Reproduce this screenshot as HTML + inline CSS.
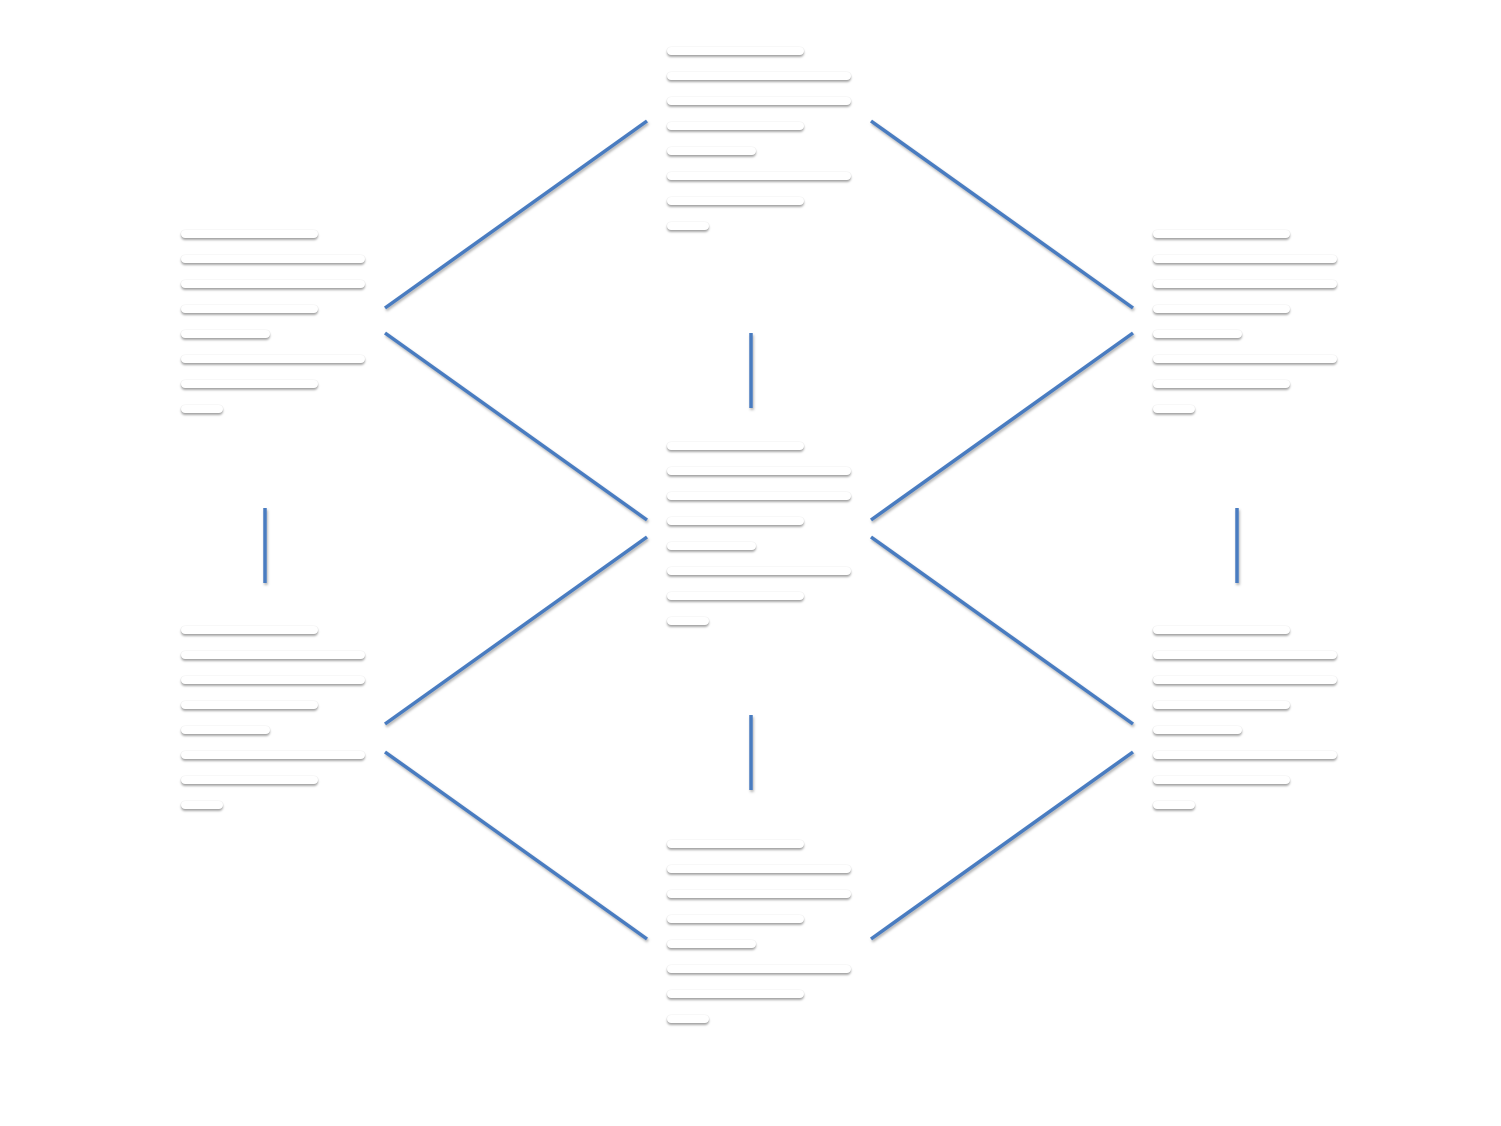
<!DOCTYPE html>
<html><head><meta charset="utf-8"><style>
html,body{margin:0;padding:0;background:#fff;}
body{width:1501px;height:1126px;position:relative;overflow:hidden;font-family:"Liberation Sans",sans-serif;}
.b{position:absolute;height:8px;background:#fff;border-radius:4px;box-shadow:0 2px 2px rgba(0,0,0,0.35),0 0 1px rgba(0,0,0,0.15);}
svg{position:absolute;left:0;top:0;}
</style></head><body>
<svg width="1501" height="1126" viewBox="0 0 1501 1126">
<defs><filter id="s" x="-20%" y="-20%" width="140%" height="140%"><feDropShadow dx="1" dy="2" stdDeviation="1.2" flood-color="#000" flood-opacity="0.3"/></filter></defs>
<g stroke="#4a7bc0" stroke-width="3.5" fill="none" filter="url(#s)">
<line x1="385" y1="308" x2="647" y2="121"/>
<line x1="871" y1="121" x2="1133" y2="308"/>
<line x1="385" y1="333" x2="647" y2="520"/>
<line x1="1133" y1="333" x2="871" y2="520"/>
<line x1="647" y1="537" x2="385" y2="724"/>
<line x1="871" y1="537" x2="1133" y2="724"/>
<line x1="385" y1="752" x2="647" y2="939"/>
<line x1="1133" y1="752" x2="871" y2="939"/>
<line x1="751" y1="333" x2="751" y2="408"/>
<line x1="751" y1="715" x2="751" y2="790"/>
<line x1="265" y1="508" x2="265" y2="583"/>
<line x1="1237" y1="508" x2="1237" y2="583"/>
</g>
</svg>
<div id="nodes"></div>
<script>
var nodes=[[667,47],[181,230],[1153,230],[667,442],[181,626],[1153,626],[667,840]];
var w=[137,184,184,137,89,184,137,42];
var h='';
nodes.forEach(function(n){w.forEach(function(ww,i){h+='<div class="b" style="left:'+n[0]+'px;top:'+(n[1]+i*25)+'px;width:'+ww+'px"></div>';});});
document.getElementById('nodes').innerHTML=h;
</script>
</body></html>
